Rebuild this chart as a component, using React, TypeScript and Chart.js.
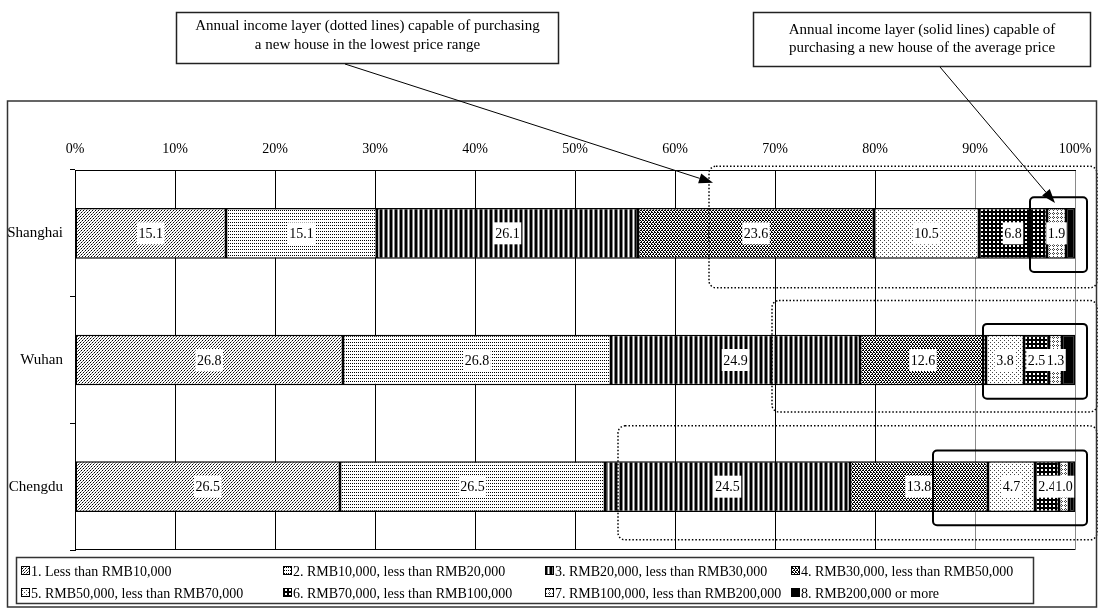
import React, { useEffect, useRef } from "react";
import { Chart, registerables } from "chart.js";

Chart.register(...registerables);

const FONT = "'Liberation Serif', 'Times New Roman', serif";

const cities = ["Shanghai", "Wuhan", "Chengdu"];
const incomeBands = [
  "1. Less than RMB10,000",
  "2. RMB10,000, less than RMB20,000",
  "3. RMB20,000, less than RMB30,000",
  "4. RMB30,000, less than RMB50,000",
  "5. RMB50,000, less than RMB70,000",
  "6. RMB70,000, less than RMB100,000",
  "7. RMB100,000, less than RMB200,000",
  "8. RMB200,000 or more",
];
const band1 = [15.1, 26.8, 26.5];
const band2 = [15.1, 26.8, 26.5];
const band3 = [26.1, 24.9, 24.5];
const band4 = [23.6, 12.6, 13.8];
const band5 = [10.5, 3.8, 4.7];
const band6 = [6.8, 2.5, 2.4];
const band7 = [1.9, 1.3, 1.0];
const band8 = [0.9, 1.3, 0.6];
const bandValues = [band1, band2, band3, band4, band5, band6, band7, band8];
const xTickValues = [0, 10, 20, 30, 40, 50, 60, 70, 80, 90, 100];
const labelledBandCount = 7;

// income layer ranges marked on the chart (in % of the axis)
const lowestPriceFrom = [63.4, 69.7, 54.3];
const averagePriceFrom = [95.5, 90.8, 85.8];

const calloutLowest = [
  "Annual income layer (dotted lines) capable of purchasing",
  "a new house in the lowest price range",
];
const calloutAverage = [
  "Annual income layer (solid lines) capable of",
  "purchasing a new house of the average price",
];

const SHADES: Record<string, string> = { X: "#000000", g: "#808080", d: "#454545" };

function diagTile(): string[] {
  const rows: string[] = [];
  for (let y = 0; y < 6; y++) {
    let r = "";
    for (let x = 0; x < 6; x++) r += (x + y) % 3 === 2 ? (y % 2 === 0 ? "X" : "g") : ".";
    rows.push(r);
  }
  return rows;
}

const PATTERN_TILES: (string[] | string)[] = [
  diagTile(),
  ["X.", "..", ".."],
  ["XXg.g"],
  ["XX.XX.", "..X..X", ".XX.XX", "X..X.."],
  ["d...", "....", "..d.", "...."],
  ["XXXX", "X..X", "X..X", "XXXX"],
  [".d..", "d.d.", ".d..", "...."],
  "#000000",
];

function makePattern(tile: string[] | string): CanvasPattern | string {
  if (typeof tile === "string") return tile;
  const c = document.createElement("canvas");
  c.width = tile[0].length;
  c.height = tile.length;
  const g = c.getContext("2d")!;
  g.fillStyle = "#fff";
  g.fillRect(0, 0, c.width, c.height);
  tile.forEach((row, y) => {
    [...row].forEach((ch, x) => {
      if (ch !== ".") {
        g.fillStyle = SHADES[ch];
        g.fillRect(x, y, 1, 1);
      }
    });
  });
  return g.createPattern(c, "repeat")!;
}

function roundRectPath(ctx: CanvasRenderingContext2D, x: number, y: number, w: number, h: number, r: number) {
  ctx.beginPath();
  ctx.moveTo(x + r, y);
  ctx.lineTo(x + w - r, y);
  ctx.arcTo(x + w, y, x + w, y + r, r);
  ctx.lineTo(x + w, y + h - r);
  ctx.arcTo(x + w, y + h, x + w - r, y + h, r);
  ctx.lineTo(x + r, y + h);
  ctx.arcTo(x, y + h, x, y + h - r, r);
  ctx.lineTo(x, y + r);
  ctx.arcTo(x, y, x + r, y, r);
  ctx.closePath();
}

function arrow(ctx: CanvasRenderingContext2D, x0: number, y0: number, x1: number, y1: number) {
  ctx.save();
  ctx.strokeStyle = "#000";
  ctx.fillStyle = "#000";
  ctx.lineWidth = 1;
  const a = Math.atan2(y1 - y0, x1 - x0);
  const len = 14;
  const hw = 5;
  const bx = x1 - len * Math.cos(a);
  const by = y1 - len * Math.sin(a);
  ctx.beginPath();
  ctx.moveTo(x0, y0);
  ctx.lineTo(bx, by);
  ctx.stroke();
  ctx.beginPath();
  ctx.moveTo(x1, y1);
  ctx.lineTo(bx + hw * Math.sin(a), by - hw * Math.cos(a));
  ctx.lineTo(bx - hw * Math.sin(a), by + hw * Math.cos(a));
  ctx.closePath();
  ctx.fill();
  ctx.restore();
}

export default function App() {
  const ref = useRef<HTMLCanvasElement>(null);

  useEffect(() => {
    document.body.style.margin = "0";
    const canvas = ref.current!;
    const patterns = PATTERN_TILES.map(makePattern);

    const overlay = {
      id: "overlay",
      afterDatasetsDraw(chart: any) {
        const ctx: CanvasRenderingContext2D = chart.ctx;
        ctx.save();
        ctx.font = `14px ${FONT}`;
        ctx.textAlign = "center";
        ctx.textBaseline = "middle";
        for (let d = 0; d < labelledBandCount; d++) {
          const meta = chart.getDatasetMeta(d);
          meta.data.forEach((el: any, j: number) => {
            const v = chart.data.datasets[d].data[j] as number;
            const text = v.toFixed(1);
            const cx = (el.x + el.base) / 2;
            const cy = el.y;
            const w = ctx.measureText(text).width + 3;
            ctx.fillStyle = "#fff";
            ctx.fillRect(cx - w / 2, cy - 11, w, 22);
            ctx.fillStyle = "#000";
            ctx.fillText(text, cx, cy + 1);
          });
        }
        ctx.restore();
      },
      afterDraw(chart: any) {
        const ctx: CanvasRenderingContext2D = chart.ctx;
        const xs = chart.scales.x;
        const ys = chart.scales.y;
        const band = (ys.bottom - ys.top) / cities.length;
        const yAt = (i: number, off: number) => ys.getPixelForValue(i) + off * band;

        ctx.save();
        // bottom plot line
        ctx.strokeStyle = "#000";
        ctx.lineWidth = 1;
        ctx.beginPath();
        ctx.moveTo(xs.left, Math.round(ys.bottom) - 0.5);
        ctx.lineTo(xs.right, Math.round(ys.bottom) - 0.5);
        ctx.stroke();

        // dotted boxes (lowest price range)
        ctx.setLineDash([1.5, 2]);
        ctx.lineWidth = 1.5;
        lowestPriceFrom.forEach((from, i) => {
          const x0 = xs.getPixelForValue(from);
          const x1 = xs.getPixelForValue(102.2);
          const offs = [[-0.53, 0.43], [-0.47, 0.41], [-0.48, 0.42]][i];
          const y0 = yAt(i, offs[0]);
          const y1 = yAt(i, offs[1]);
          roundRectPath(ctx, x0, y0, x1 - x0, y1 - y0, 7);
          ctx.stroke();
        });
        ctx.setLineDash([]);

        // solid boxes (average price)
        ctx.lineWidth = 2;
        averagePriceFrom.forEach((from, i) => {
          const x0 = xs.getPixelForValue(from);
          const x1 = xs.getPixelForValue(101.2);
          const y0 = yAt(i, -0.285);
          const y1 = yAt(i, 0.305);
          roundRectPath(ctx, x0, y0, x1 - x0, y1 - y0, 4);
          ctx.stroke();
        });

        // outer frame
        ctx.strokeStyle = "#333";
        ctx.lineWidth = 1.5;
        ctx.strokeRect(7.5, 101, 1089, 506);

        // callout boxes
        ctx.font = `15px ${FONT}`;
        ctx.textAlign = "center";
        ctx.textBaseline = "middle";
        const callout = (lines: string[], x: number, y: number, w: number, h: number, ly: number[]) => {
          ctx.fillStyle = "#fff";
          ctx.fillRect(x, y, w, h);
          ctx.strokeStyle = "#222";
          ctx.lineWidth = 1.5;
          ctx.strokeRect(x, y, w, h);
          ctx.fillStyle = "#000";
          lines.forEach((t, k) => ctx.fillText(t, x + w / 2, ly[k]));
        };
        callout(calloutLowest, 176.5, 12.5, 382, 51, [26, 45]);
        callout(calloutAverage, 753.5, 12.5, 337, 54, [30, 48]);

        // arrows
        arrow(ctx, 345, 64, xs.getPixelForValue(63.8), yAt(0, -0.4));
        arrow(ctx, 940, 67, xs.getPixelForValue(98.0), yAt(0, -0.24));

        // legend
        ctx.font = `14px ${FONT}`;
        ctx.strokeStyle = "#333";
        ctx.lineWidth = 1.5;
        ctx.strokeRect(16.5, 557.5, 1017, 46);
        const colX = [21, 283, 545, 791];
        const rowY = [571, 593];
        ctx.textAlign = "left";
        chart.data.datasets.forEach((ds: any, i: number) => {
          const x = colX[i % 4];
          const y = rowY[Math.floor(i / 4)];
          ctx.fillStyle = ds.backgroundColor;
          ctx.fillRect(x, y - 5, 9, 9);
          ctx.strokeStyle = "#000";
          ctx.lineWidth = 1;
          ctx.strokeRect(x + 0.5, y - 4.5, 8, 8);
          ctx.fillStyle = "#000";
          ctx.fillText(ds.label, x + 10, y + 1);
        });
        ctx.restore();
      },
    };

    const chart = new Chart(canvas, {
      type: "bar",
      data: {
        labels: cities,
        datasets: bandValues.map((vals, i) => ({
          label: incomeBands[i],
          data: vals,
          backgroundColor: patterns[i] as any,
          borderColor: "#000",
          borderWidth: 1.5,
          borderSkipped: false,
          categoryPercentage: 1,
          barPercentage: 0.4,
        })),
      },
      options: {
        indexAxis: "y",
        responsive: false,
        animation: false,
        events: [],
        layout: { padding: { top: 120, right: 24, bottom: 60, left: 0 } },
        plugins: {
          legend: { display: false },
          tooltip: { enabled: false },
          title: { display: false },
        },
        scales: {
          x: {
            type: "linear",
            position: "top",
            stacked: true,
            min: 0,
            max: 100,
            afterBuildTicks: (scale: any) => {
              scale.ticks = xTickValues.map((v) => ({ value: v }));
            },
            afterFit: (scale: any) => {
              scale.height = 50;
              scale.paddingLeft = 0;
              scale.paddingRight = 0;
            },
            ticks: {
              callback: (v: any) => `${v}%`,
              color: "#000",
              font: { family: FONT, size: 14 },
              padding: 12,
              maxRotation: 0,
            },
            grid: {
              drawTicks: false,
              color: (c: any) => (c.tick && c.tick.value >= 90 ? "#8a8a8a" : "#000"),
              lineWidth: 1,
            },
            border: { display: true, color: "#000", width: 1 },
          },
          y: {
            type: "category",
            stacked: true,
            offset: true,
            afterFit: (scale: any) => {
              scale.width = 75;
              scale.paddingTop = 0;
              scale.paddingBottom = 0;
            },
            ticks: {
              color: "#000",
              font: { family: FONT, size: 15 },
              padding: 7,
            },
            grid: {
              offset: true,
              drawOnChartArea: false,
              drawTicks: true,
              tickLength: 5,
              color: "#000",
            },
            border: { display: true, color: "#000", width: 1 },
          },
        },
      },
      plugins: [overlay],
    });

    return () => chart.destroy();
  }, []);

  return (
    <canvas
      ref={ref}
      width={1099}
      height={610}
      style={{ display: "block", width: "1099px", height: "610px" }}
    />
  );
}
